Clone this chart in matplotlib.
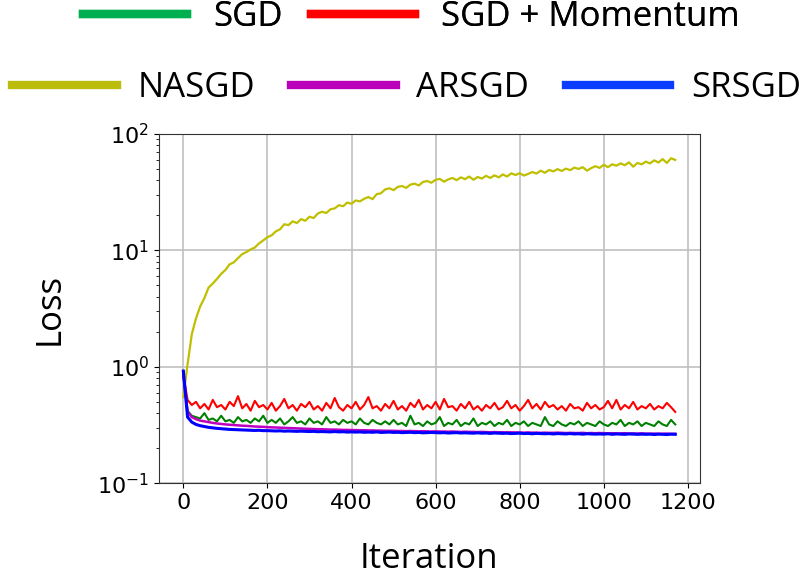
import numpy as np
import matplotlib
matplotlib.use("Agg")
import matplotlib.pyplot as plt
from matplotlib.lines import Line2D

# iteration index (one sample every 10 iterations)
iterations = np.arange(0, 1180, 10)

sgd = [
    0.85, 0.42, 0.38, 0.37, 0.36, 0.40, 0.35, 0.36, 0.34, 0.38,
    0.34, 0.35, 0.33, 0.37, 0.34, 0.35, 0.33, 0.36, 0.34, 0.38,
    0.33, 0.35, 0.33, 0.36, 0.32, 0.34, 0.37, 0.33, 0.34, 0.32,
    0.36, 0.33, 0.34, 0.32, 0.37, 0.33, 0.34, 0.32, 0.35, 0.33,
    0.34, 0.32, 0.36, 0.33, 0.32, 0.35, 0.33, 0.32, 0.34, 0.32,
    0.35, 0.32, 0.33, 0.31, 0.38, 0.32, 0.33, 0.31, 0.34, 0.32,
    0.33, 0.37, 0.31, 0.33, 0.32, 0.35, 0.31, 0.33, 0.32, 0.36,
    0.31, 0.33, 0.32, 0.34, 0.31, 0.33, 0.32, 0.35, 0.31, 0.33,
    0.32, 0.34, 0.31, 0.33, 0.32, 0.31, 0.37, 0.32, 0.31, 0.34,
    0.32, 0.31, 0.33, 0.32, 0.34, 0.31, 0.33, 0.32, 0.31, 0.34,
    0.32, 0.31, 0.33, 0.32, 0.35, 0.31, 0.33, 0.32, 0.34, 0.31,
    0.33, 0.32, 0.31, 0.34, 0.32, 0.31, 0.35, 0.32,
]

sgd_momentum = [
    0.85, 0.52, 0.47, 0.50, 0.44, 0.48, 0.43, 0.52, 0.45, 0.47,
    0.43, 0.50, 0.46, 0.56, 0.44, 0.48, 0.42, 0.51, 0.45, 0.47,
    0.43, 0.49, 0.42, 0.46, 0.53, 0.44, 0.47, 0.42, 0.48, 0.45,
    0.50, 0.43, 0.46, 0.42, 0.49, 0.44, 0.54, 0.45, 0.42, 0.47,
    0.44, 0.50, 0.43, 0.47, 0.55, 0.44, 0.46, 0.42, 0.48, 0.44,
    0.51, 0.43, 0.46, 0.42, 0.49, 0.45, 0.52, 0.43, 0.47, 0.44,
    0.50, 0.43, 0.53, 0.45, 0.46, 0.42, 0.48, 0.44, 0.50, 0.43,
    0.46, 0.42, 0.47, 0.44, 0.49, 0.43, 0.45, 0.51, 0.44, 0.47,
    0.42, 0.46, 0.52, 0.44, 0.48, 0.43, 0.50, 0.45, 0.47, 0.43,
    0.46, 0.42, 0.48, 0.44, 0.45, 0.42, 0.49, 0.44, 0.47, 0.43,
    0.45, 0.51, 0.44, 0.52, 0.43, 0.47, 0.44, 0.50, 0.43, 0.46,
    0.44, 0.48, 0.43, 0.46, 0.44, 0.49, 0.45, 0.41,
]

nasgd = [
    0.55, 1.05, 1.9, 2.6, 3.3, 3.9, 4.8, 5.2, 5.7, 6.3,
    6.8, 7.6, 7.9, 8.6, 9.3, 9.7, 10.2, 10.6, 11.5, 12.2,
    13.0, 13.5, 14.6, 15.2, 16.8, 16.5, 17.8, 17.2, 18.6, 18.0,
    19.5, 19.0, 20.8, 21.5, 21.0, 22.6, 23.0, 24.5, 24.0, 25.8,
    25.2, 26.9, 26.4, 27.8, 28.8, 27.6, 30.5, 31.0, 33.5, 34.2,
    33.0, 35.2, 35.8, 34.5, 36.8, 37.5, 36.2, 38.8, 39.5, 38.2,
    40.5, 41.2, 39.0, 40.8, 42.0, 40.2, 42.5, 41.0, 43.2, 40.5,
    42.8, 41.5, 43.8, 42.0, 44.2, 42.5, 45.0, 43.2, 46.0, 44.5,
    46.2, 44.0, 45.5, 47.2, 45.8, 48.5, 46.5, 49.2, 47.8, 50.0,
    48.2, 50.5, 49.0, 51.5, 50.2, 52.0, 48.5, 51.0, 53.0, 51.2,
    54.5, 52.0, 55.0, 53.5, 56.0, 54.0, 57.2, 52.5, 56.5, 55.0,
    58.0, 56.0, 59.5, 57.0, 61.0, 56.5, 62.0, 60.0,
]

arsgd = [
    0.85, 0.41, 0.37, 0.355, 0.345, 0.34, 0.335, 0.33, 0.326, 0.323,
    0.32, 0.318, 0.316, 0.314, 0.312, 0.311, 0.309, 0.307, 0.306, 0.305,
    0.303, 0.302, 0.301, 0.30, 0.299, 0.298, 0.297, 0.296, 0.295, 0.294,
    0.293, 0.292, 0.291, 0.291, 0.29, 0.289, 0.289, 0.288, 0.287, 0.287,
    0.286, 0.286, 0.285, 0.285, 0.284, 0.284, 0.283, 0.283, 0.282, 0.282,
    0.282, 0.281, 0.281, 0.280, 0.281, 0.280, 0.279, 0.280, 0.279, 0.278,
    0.279, 0.278, 0.278, 0.277, 0.278, 0.277, 0.276, 0.277, 0.276, 0.276,
    0.275, 0.276, 0.275, 0.274, 0.275, 0.274, 0.274, 0.273, 0.274, 0.273,
    0.273, 0.272, 0.273, 0.272, 0.272, 0.271, 0.272, 0.271, 0.271, 0.272,
    0.271, 0.270, 0.271, 0.270, 0.270, 0.271, 0.269, 0.270, 0.269, 0.270,
    0.269, 0.268, 0.269, 0.268, 0.268, 0.269, 0.267, 0.268, 0.267, 0.268,
    0.267, 0.266, 0.267, 0.266, 0.266, 0.267, 0.265, 0.266,
]

srsgd = [
    0.92, 0.37, 0.335, 0.32, 0.312, 0.307, 0.302, 0.299, 0.296, 0.294,
    0.292, 0.29, 0.289, 0.288, 0.287, 0.286, 0.285, 0.284, 0.285, 0.283,
    0.283, 0.282, 0.281, 0.282, 0.280, 0.281, 0.280, 0.279, 0.280, 0.279,
    0.278, 0.279, 0.277, 0.278, 0.277, 0.276, 0.278, 0.276, 0.277, 0.275,
    0.276, 0.275, 0.276, 0.274, 0.275, 0.274, 0.276, 0.273, 0.274, 0.275,
    0.273, 0.274, 0.272, 0.273, 0.274, 0.272, 0.273, 0.271, 0.272, 0.273,
    0.272, 0.271, 0.272, 0.270, 0.271, 0.272, 0.270, 0.271, 0.270, 0.269,
    0.271, 0.269, 0.270, 0.268, 0.270, 0.269, 0.268, 0.269, 0.267, 0.268,
    0.269, 0.267, 0.268, 0.266, 0.268, 0.267, 0.266, 0.267, 0.265, 0.267,
    0.266, 0.265, 0.267, 0.265, 0.266, 0.264, 0.266, 0.265, 0.264, 0.265,
    0.264, 0.266, 0.263, 0.265, 0.264, 0.263, 0.265, 0.264, 0.263, 0.264,
    0.263, 0.264, 0.262, 0.264, 0.263, 0.262, 0.264, 0.263,
]

labels = ["SGD", "SGD + Momentum", "NASGD", "ARSGD", "SRSGD"]
line_colors = ["g", "r", "y", "m", "b"]
line_widths = [1.5, 1.5, 1.6, 1.8, 2.2]
legend_colors = ["#00b050", "#ff0000", "#bcbc0c", "#bb00bb", "#0a3cff"]

BIG_FONT = "Open Sans"
BIG_SIZE = 25

fig = plt.figure(figsize=(8.1, 5.78), dpi=100)
ax = fig.add_axes([0.196, 0.164, 0.668, 0.604])

series = [sgd, sgd_momentum, nasgd, arsgd, srsgd]
for vals, c, lw in zip(series, line_colors, line_widths):
    ax.plot(iterations, vals, color=c, lw=lw)

ax.set_yscale("log")
ax.set_ylim(0.1, 100)
ax.set_xticks([0, 200, 400, 600, 800, 1000, 1200])
ax.grid(True, which="major", color="#c0c0c0", lw=1.2)
ax.tick_params(labelsize=16)
for s in ax.spines.values():
    s.set_color("#333333")

ax.set_xlabel("Iteration", fontsize=BIG_SIZE, family=BIG_FONT, labelpad=21)
ax.set_ylabel("Loss", fontsize=BIG_SIZE, family=BIG_FONT, labelpad=22)

# legend in two rows above the plot
h = [Line2D([], [], color=c, lw=6) for c in legend_colors]
leg_kw = dict(loc="center", frameon=False, handlelength=3.0, borderpad=0,
              prop={"family": BIG_FONT, "size": BIG_SIZE})
leg1 = fig.legend(h[:2], labels[:2], bbox_to_anchor=(0.508, 0.971), ncol=2,
                  handletextpad=0.75, columnspacing=0.8, **leg_kw)
leg2 = fig.legend(h[2:], labels[2:], bbox_to_anchor=(0.502, 0.848), ncol=3,
                  handletextpad=0.6, columnspacing=1.05, **leg_kw)
fig.add_artist(leg1)

fig.savefig("out.png", dpi=100, facecolor="white")
